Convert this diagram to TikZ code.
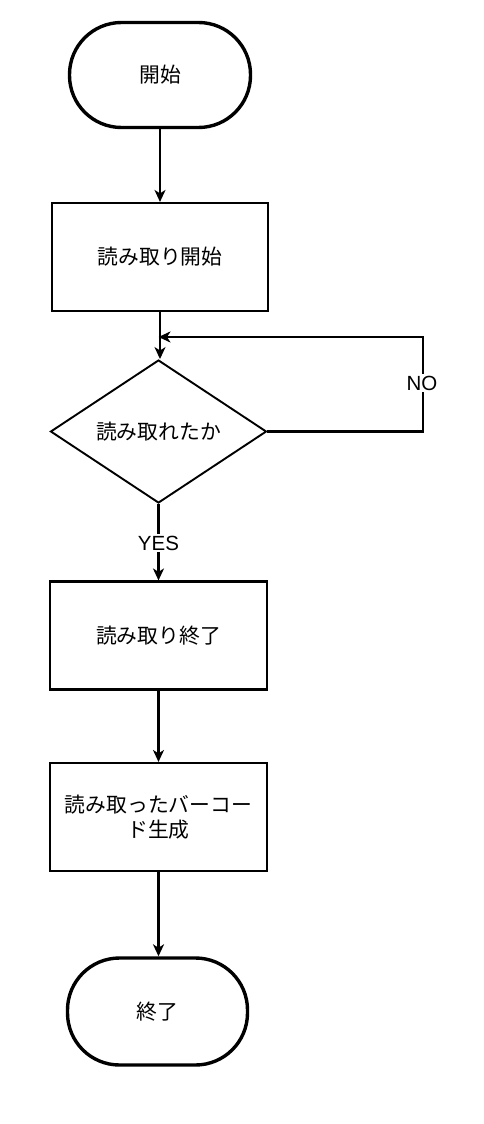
\documentclass[tikz,border=0pt]{standalone}
\usepackage{fontspec}
\setmainfont{Liberation Sans}
\newfontfamily\jpfont{Noto Sans CJK JP}
\usetikzlibrary{shapes.geometric,arrows.meta}
\tikzset{
  base/.style={draw=black, fill=white, inner sep=0pt, font=\jpfont\fontsize{20.8}{25}\selectfont, align=center},
  term/.style={base, line width=3.4pt, rounded corners=52pt},
  procbox/.style={base, line width=2.1pt, rectangle, minimum width=216pt, minimum height=108pt},
  decide/.style={base, line width=1.9pt, diamond, aspect=1.51, minimum width=216pt, minimum height=143pt},
  conn/.style={line width=2.1pt, -{Stealth[length=12pt,width=11pt,inset=3.5pt]}},
  lbl/.style={fill=white, inner sep=1.5pt, font=\fontsize{20.5}{24}\selectfont}
}
\begin{document}
\begin{tikzpicture}[x=1pt,y=-1pt]
\useasboundingbox (0,0) rectangle (484,1124);
\node[term, minimum width=181pt, minimum height=105pt] (start) at (160,75) {開始};
\node[procbox] (b1) at (160,257) {読み取り開始};
\node[decide] (d) at (158.5,431.5) {読み取れたか};
\node[procbox, minimum width=217pt] (b3) at (158.5,635.5) {読み取り終了};
\node[procbox, minimum width=217pt] (b4) at (158.5,817) {読み取ったバーコー\\ド生成};
\node[term, minimum width=180pt, minimum height=107pt] (end) at (157.5,1011.5) {終了};
\coordinate (loopc) at (423,337);
\draw[conn] (start.south) -- (start.south |- b1.north);
\draw[conn] (b1.south) -- (b1.south |- d.north);
\draw[conn] (d.east) -| (loopc) -- (d.north |- loopc);
\draw[conn] (d.south) -- (d.south |- b3.north);
\draw[conn] (b3.south) -- (b3.south |- b4.north);
\draw[conn] (b4.south) -- (b4.south |- end.north);
\node[lbl] (no) at (422,383) {NO};
\node[lbl] (yes) at (158.5,543) {YES};
\end{tikzpicture}
\end{document}
